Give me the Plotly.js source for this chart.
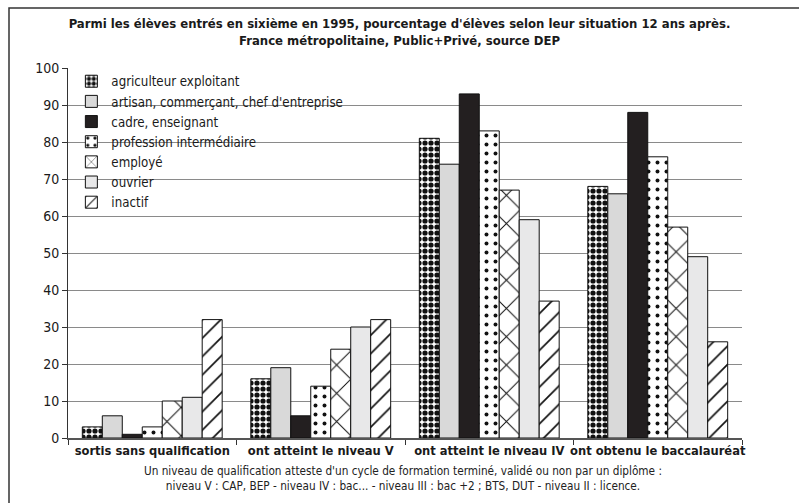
<!DOCTYPE html>
<html><head><meta charset="utf-8">
<script src="https://cdn.plot.ly/plotly-3.0.1.min.js"></script>
<style>html,body{margin:0;padding:0;background:#fff}#chart{width:799px;height:503px}</style>
</head><body><div id="chart"></div>
<script>
const categories = ["sortis sans qualification", "ont atteint le niveau V", "ont atteint le niveau IV", "ont obtenu le baccalauréat"];
const seriesNames = ["agriculteur exploitant", "artisan, commerçant, chef d'entreprise", "cadre, enseignant", "profession intermédiaire", "employé", "ouvrier", "inactif"];
const agriculteur = [3, 16, 81, 68];
const artisan = [6, 19, 74, 66];
const cadre = [1, 6, 93, 88];
const professionInter = [3, 14, 83, 76];
const employe = [10, 24, 67, 57];
const ouvrier = [11, 30, 59, 49];
const inactif = [32, 32, 37, 26];
const yTicks = [0, 10, 20, 30, 40, 50, 60, 70, 80, 90, 100];
const titleText = "Parmi les élèves entrés en sixième en 1995, pourcentage d'élèves selon leur situation 12 ans après.<br>France métropolitaine, Public+Privé, source DEP";
const noteText = "Un niveau de qualification atteste d'un cycle de formation terminé, validé ou non par un diplôme :<br>niveau V : CAP, BEP - niveau IV : bac... - niveau III : bac +2 ; BTS, DUT - niveau II : licence.";

const values = [agriculteur, artisan, cadre, professionInter, employe, ouvrier, inactif];
const styles = [
  {color: "#ffffff", pattern: {shape: ".", fgcolor: "#111", bgcolor: "#fff", size: 6, solidity: 0.6}},
  {color: "#d9d9d9"},
  {color: "#231f20"},
  {color: "#ffffff", pattern: {shape: ".", fgcolor: "#111", bgcolor: "#fff", size: 9, solidity: 0.15}},
  {color: "#ffffff", pattern: {shape: "x", fgcolor: "#111", bgcolor: "#fff", size: 20, solidity: 0.1}},
  {color: "#e8e8e9"},
  {color: "#ffffff", pattern: {shape: "/", fgcolor: "#111", bgcolor: "#fff", size: 13, solidity: 0.13}}
];
const FONT = "DejaVu Sans Condensed, DejaVu Sans, sans-serif";
const traces = seriesNames.map((n, i) => ({
  type: "bar", name: n, x: categories, y: values[i],
  marker: Object.assign({line: {color: "#111", width: 1}}, styles[i]),
  hoverinfo: "skip"
}));

const layout = {
  width: 799, height: 503,
  margin: {l: 68, r: 57, t: 68, b: 65},
  paper_bgcolor: "#fff", plot_bgcolor: "#fff",
  font: {family: FONT, color: "#1a1a1a", size: 13},
  title: {text: titleText, x: 0.5, xanchor: "center", xref: "container", yref: "container", y: 0.945, yanchor: "middle",
    font: {size: 13, family: FONT, weight: "bold"}},
  barmode: "group", bargap: 0.17, bargroupgap: 0,
  showlegend: true,
  legend: {x: 0.005, y: 1.005, xanchor: "left", yanchor: "top", bgcolor: "rgba(0,0,0,0)", font: {size: 13.2, family: FONT}, tracegroupgap: 0, itemwidth: 30},
  xaxis: {type: "category", tickson: "boundaries", ticks: "outside", ticklen: 5, tickcolor: "#333", tickangle: 0,
    showline: true, linecolor: "#555", linewidth: 1.5, tickfont: {size: 12.8, family: FONT, weight: "bold"}},
  yaxis: {range: [0, 100], tickvals: yTicks, ticks: "outside", ticklen: 5, tickcolor: "#333",
    showline: true, linecolor: "#333", linewidth: 1, gridcolor: "#8a8a8a", gridwidth: 1, zeroline: false,
    tickfont: {size: 14, family: FONT}},
  annotations: [{text: noteText, xref: "paper", yref: "paper", x: 0.497, y: -0.066, xanchor: "center", yanchor: "top",
    showarrow: false, align: "center", font: {size: 11.7, family: FONT, color: "#222"}}],
  shapes: [{type: "rect", xref: "paper", yref: "paper", x0: (9 - 68) / 674, x1: (830 - 68) / 674,
    y0: (438 - 540) / 370, y1: (438 - 8) / 370, line: {color: "#333", width: 1.5}, fillcolor: "rgba(0,0,0,0)", layer: "below"}]
};
Plotly.newPlot("chart", traces, layout, {displayModeBar: false, staticPlot: true});
</script></body></html>
